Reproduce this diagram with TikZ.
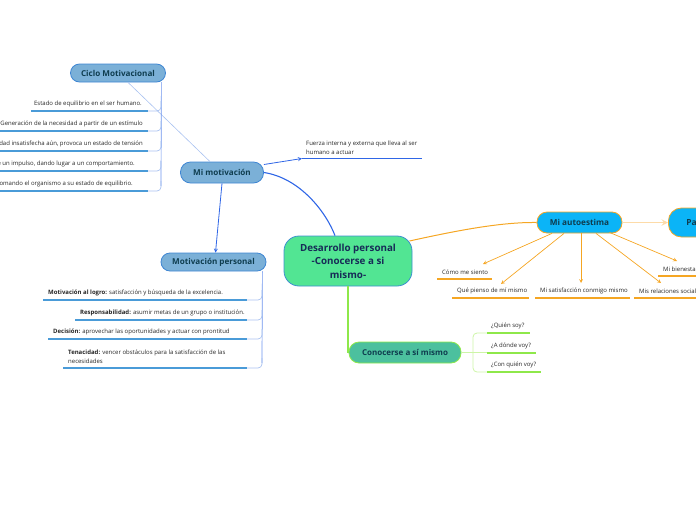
\documentclass[tikz,border=0pt]{standalone}
\usepackage{fontspec}
\setmainfont{Open Sans}
\usetikzlibrary{arrows.meta}
\definecolor{bluefill}{HTML}{7BB0D7}
\definecolor{blueedge}{HTML}{3F86D3}
\definecolor{darkteal}{HTML}{0F3D4F}
\definecolor{mainblue}{HTML}{2F66E6}
\definecolor{uline}{HTML}{4A9BD8}
\definecolor{hookblue}{HTML}{A9C2F0}
\definecolor{rootfill}{HTML}{52E593}
\definecolor{rootedge}{HTML}{3D8FCF}
\definecolor{roottext}{HTML}{172B57}
\definecolor{esteemfill}{HTML}{0BB4F7}
\definecolor{orangeline}{HTML}{F5A623}
\definecolor{peach}{HTML}{FDDBA8}
\definecolor{selffill}{HTML}{4CC09E}
\definecolor{lime}{HTML}{8EE84A}
\definecolor{limelight}{HTML}{CDF5A6}
\begin{document}
\begin{tikzpicture}[x=1pt,y=-1pt,>=stealth,
  topic/.style={draw=blueedge,fill=bluefill,line width=0.8pt,rounded corners=9pt,
    text=darkteal,font=\fontsize{8.1}{10}\selectfont\bfseries,inner sep=0pt},
  note/.style={font=\fontsize{6}{8.8}\selectfont,text=black!85,inner sep=1pt,align=left},
  bline/.style={draw=uline,line width=1.6pt},
  bhook/.style={draw=hookblue,line width=0.7pt,rounded corners=4pt},
  btrunk/.style={draw=mainblue!70,line width=0.7pt},
  oarrow/.style={->,draw=orangeline,line width=0.7pt},
  oline/.style={draw=orangeline,line width=1.3pt},
  gline/.style={draw=lime,line width=1.3pt}]
\useasboundingbox (0,0) rectangle (696,520);

% nodes
\node[topic,minimum width=95pt,minimum height=18pt] (ciclo) at (118,73) {Ciclo Motivacional};
\node[topic,minimum width=83pt,minimum height=21pt,rounded corners=10pt] (motiv) at (222,172.5) {Mi motivación};
\node[topic,minimum width=105pt,minimum height=18pt] (mpers) at (213.5,262) {Motivación personal};
\node[draw=rootedge,fill=rootfill,line width=0.8pt,rounded corners=15pt,minimum width=128pt,
  minimum height=50pt,align=center,text=roottext,font=\fontsize{9.8}{13.5}\selectfont\bfseries,
  inner sep=0pt] (root) at (348,261) {Desarrollo personal\\-Conocerse a si\\mismo-};
\node[draw=orangeline,fill=esteemfill,line width=0.8pt,rounded corners=10pt,minimum width=85pt,
  minimum height=21pt,text=darkteal,font=\fontsize{8.2}{10}\selectfont\bfseries,inner sep=0pt]
  (autoe) at (579.5,222.5) {Mi autoestima};
\node[draw=orangeline,fill=esteemfill,line width=0.8pt,rounded corners=13pt,anchor=west,
  minimum height=29pt,text width=40pt,inner xsep=18pt,align=left,text=darkteal,
  font=\fontsize{8.4}{10}\selectfont\bfseries] (pautas) at (668,222.5) {Pa};
\node[draw=lime,fill=selffill,line width=0.8pt,rounded corners=10pt,minimum width=112pt,
  minimum height=21pt,text=darkteal,font=\fontsize{8}{10}\selectfont\bfseries,inner sep=0pt]
  (conoc) at (405,352.5) {Conocerse a sí mismo};

% Ciclo Motivacional
\draw[draw=hookblue,line width=0.6pt] ([xshift=10pt]ciclo.south) -- ([xshift=-12pt]motiv.north);
\draw[btrunk] ([xshift=-4.5pt]ciclo.south east) -- (161,186);
\foreach \n/\y/\r/\t in {1/111/143/{Estado de equilibrio en el ser humano.},
  2/131/144/{Generación de la necesidad a partir de un estímulo},
  3/151/144/{dad insatisfecha aún, provoca un estado de tensión},
  4/171/136/{e un impulso, dando lugar a un comportamiento.},
  5/191/134/{omando el organismo a su estado de equilibrio.}}{
  \node[note,anchor=south east] (ciclo\n) at (\r,\y-3) {\t};
  \draw[bline] ([xshift=-2pt]ciclo\n.south west |- 0,\y) -- (148,\y);
  \draw[bhook] (148,\y) -- (161,\y) -- (161,\y-10);
}

% Mi motivacion
\node[note,anchor=south west] (fuerza) at (305,155.5) {Fuerza interna y externa que lleva al ser\\humano a actuar};
\coordinate (fz) at (302,158.5);
\draw[bline,draw=mainblue,line width=1.2pt] (fz) -- (422,158.5);
\draw[->,draw=mainblue,line width=0.8pt] ([yshift=8pt]motiv.east) -- (fz);
\draw[draw=mainblue,line width=1.1pt] (motiv.east) .. controls (300,178) and (326,212) .. ([xshift=-13pt]root.north);
\draw[->,draw=mainblue,line width=0.8pt] (motiv.south) -- ([xshift=2pt]mpers.north);

% Motivacion personal
\draw[btrunk] ([xshift=-4pt]mpers.south east) -- (262,363);
\foreach \n/\y/\s/\b/\t in {1/300/43/{Motivación al logro:}/{satisfacción y búsqueda de la excelencia.},
  2/320/75/{Responsabilidad:}/{asumir metas de un grupo o institución.},
  3/339/48/{Decisión:}/{aprovechar las oportunidades y actuar con prontitud},
  4/368/63/{Tenacidad:}/{vencer obstáculos para la satisfacción de las\\necesidades}}{
  \node[note,anchor=south west] (mp\n) at (\s+4,\y-3) {\textbf{\b} \t};
  \draw[bline] (\s,\y) -- (247,\y);
  \draw[bhook] (247,\y) -- (262,\y) -- (262,\y-10);
}

% Mi autoestima
\draw[draw=orangeline,line width=1pt] ([xshift=-3pt,yshift=20pt]root.east) .. controls (455,231) and (500,222) .. (autoe.west);
\draw[->,draw=peach,line width=1.8pt] (autoe.east) -- (pautas.west);
\foreach \n/\x/\y/\e/\t in {siento/437/279/492/{Cómo me siento},
  pienso/452/298/529/{Qué pienso de mí mismo},
  satisf/535/298/630/{Mi satisfacción conmigo mismo},
  relac/634/298/700/{Mis relaciones sociales},
  bien/658/276/700/{Mi bienestar}}{
  \node[note,anchor=south west] (\n) at (\x+4,\y-3) {\t};
  \draw[oline] (\x,\y) -- (\e,\y);
}
\coordinate (tsiento) at (483,264);
\coordinate (tpienso) at (501,284);
\coordinate (tsatisf) at (581,283);
\coordinate (trelac) at (661,283);
\coordinate (tbien) at (677,261);
\draw[oarrow] ([xshift=-27.5pt]autoe.south) -- (tsiento);
\draw[oarrow] ([xshift=-15.5pt]autoe.south) -- (tpienso);
\draw[oarrow] ([xshift=1.5pt]autoe.south) -- (tsatisf);
\draw[oarrow] ([xshift=16.5pt]autoe.south) -- (trelac);
\draw[oarrow] ([xshift=30pt,yshift=1pt]autoe.south) -- (tbien);

% Conocerse a si mismo
\draw[gline,line width=1.6pt] (root.south) -- (root.south |- conoc.west);
\draw[draw=limelight,line width=0.8pt] (conoc.east) -- (473,352.5);
\draw[draw=limelight,line width=0.8pt,rounded corners=4pt] (487,333) -- (473,333) -- (473,372) -- (487,372);
\draw[draw=limelight,line width=0.8pt] (473,352.5) -- (487,352.5);
\foreach \n/\y/\e/\t in {1/333/530/{¿Quién soy?},2/353/536/{¿A dónde voy?},3/372/541/{¿Con quién voy?}}{
  \node[note,anchor=south west] (q\n) at (490,\y-3) {\t};
  \draw[gline] (487,\y) -- (\e,\y);
}
\end{tikzpicture}
\end{document}
